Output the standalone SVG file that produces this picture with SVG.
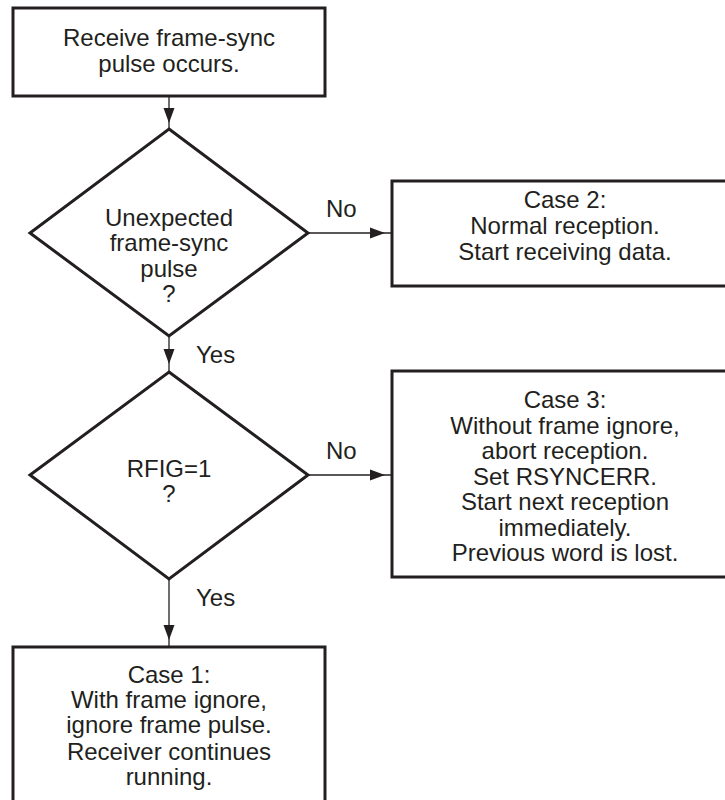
<svg xmlns="http://www.w3.org/2000/svg" width="725" height="800" viewBox="0 0 725 800">
<style>
.box{fill:#fff;stroke:#231f20;stroke-width:3}
.t{font-family:"Liberation Sans",Arial,sans-serif;font-size:24px;fill:#231f20;text-anchor:middle}
.lbl{font-family:"Liberation Sans",Arial,sans-serif;font-size:24px;fill:#231f20}
.c{fill:none;stroke:#231f20;stroke-width:1.3;marker-mid:url(#ah)}
</style>
<defs>
<marker id="ah" markerUnits="userSpaceOnUse" markerWidth="16" markerHeight="12" refX="15" refY="6" orient="auto">
<path d="M0,0.5 L15,6 L0,11.5 Z" fill="#231f20"/>
</marker>
</defs>
<rect width="725" height="800" fill="#fff"/>
<g id="connectors">
<path class="c" d="M169,96 V123 V129"/>
<path class="c" d="M308,233 H385 H392"/>
<path class="c" d="M169,336 V364 V372"/>
<path class="c" d="M308,475 H385 H392"/>
<path class="c" d="M169,579 V640 V647"/>
<text class="lbl" x="326" y="217">No</text>
<text class="lbl" x="196" y="363">Yes</text>
<text class="lbl" x="326" y="459">No</text>
<text class="lbl" x="196" y="606">Yes</text>
</g>
<g id="start">
<rect class="box" x="13" y="8" width="312" height="88"/>
<text class="t" x="169" y="46">Receive frame-sync</text>
<text class="t" x="169" y="72">pulse occurs.</text>
</g>
<g id="decision1">
<polygon class="box" points="169,129 308,233 169,336 30,233"/>
<text class="t" x="169" y="226">Unexpected</text>
<text class="t" x="169" y="251">frame-sync</text>
<text class="t" x="169" y="277">pulse</text>
<text class="t" x="169" y="302">?</text>
</g>
<g id="case2">
<rect class="box" x="392" y="181" width="348" height="105"/>
<text class="t" x="565" y="208">Case 2:</text>
<text class="t" x="565" y="234">Normal reception.</text>
<text class="t" x="565" y="260">Start receiving data.</text>
</g>
<g id="decision2">
<polygon class="box" points="169,372 308,475 169,579 30,475"/>
<text class="t" x="169" y="477">RFIG=1</text>
<text class="t" x="169" y="502">?</text>
</g>
<g id="case3">
<rect class="box" x="392" y="371" width="348" height="206"/>
<text class="t" x="565" y="408">Case 3:</text>
<text class="t" x="565" y="434">Without frame ignore,</text>
<text class="t" x="565" y="459">abort reception.</text>
<text class="t" x="565" y="485">Set RSYNCERR.</text>
<text class="t" x="565" y="510">Start next reception</text>
<text class="t" x="565" y="536">immediately.</text>
<text class="t" x="565" y="561">Previous word is lost.</text>
</g>
<g id="case1">
<rect class="box" x="13" y="647" width="312" height="170"/>
<text class="t" x="169" y="683">Case 1:</text>
<text class="t" x="169" y="708">With frame ignore,</text>
<text class="t" x="169" y="733">ignore frame pulse.</text>
<text class="t" x="169" y="760">Receiver continues</text>
<text class="t" x="169" y="785">running.</text>
</g>
</svg>
